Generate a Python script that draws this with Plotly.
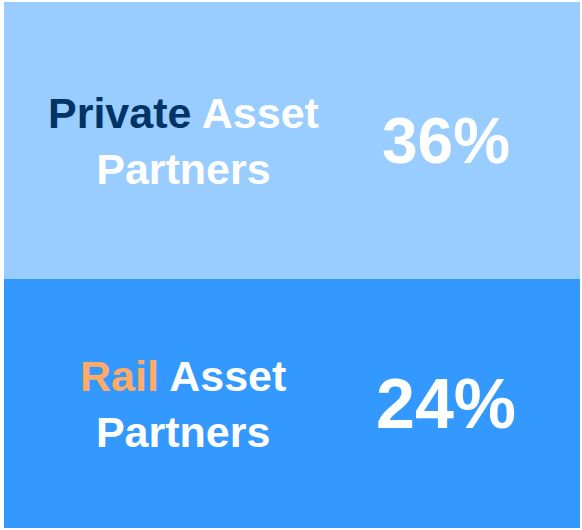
import plotly.graph_objects as go

# two partner groups, bottom row first
highlight_words = ["Rail", "Private"]
label_rest = ["Asset<br>Partners", "Asset<br>Partners"]
shares = [24, 36]

block_colors = ["#3399FF", "#99CCFF"]
highlight_colors = ["#FFAA66", "#003366"]
row_heights = [249, 277]  # pixel heights of each block

W, H = 582, 530
FONT = "Liberation Sans, Arial, Helvetica, sans-serif"

# stack the blocks on a numeric y axis
centers = []
bottom = 0
for h in row_heights:
    centers.append(bottom + h / 2)
    bottom += h

fig = go.Figure()
fig.add_trace(go.Bar(
    x=[1] * len(shares),
    y=centers,
    width=row_heights,
    orientation="h",
    marker=dict(color=block_colors, line=dict(width=0)),
    hoverinfo="skip",
    showlegend=False,
))

for i, pct in enumerate(shares):
    label = "<b><span style='color:%s'>%s</span> %s</b>" % (
        highlight_colors[i], highlight_words[i], label_rest[i])
    fig.add_annotation(
        x=0.311, y=centers[i], xref="x", yref="y",
        text=label, showarrow=False, align="center",
        font=dict(family=FONT, size=43, color="white"),
    )
    fig.add_annotation(
        x=0.768, y=centers[i], xref="x", yref="y",
        text="<b>%d%%</b>" % pct, showarrow=False,
        font=dict(family=FONT, size=64 if i else 70, color="white"),
    )

fig.update_layout(
    width=W, height=H,
    margin=dict(l=4, r=2, t=2, b=2),
    paper_bgcolor="white", plot_bgcolor="white",
    bargap=0,
    xaxis=dict(range=[0, 1], visible=False, fixedrange=True),
    yaxis=dict(range=[0, sum(row_heights)], visible=False, fixedrange=True),
)

# drop the browser's default body margin so the figure sits at the corner
fig.write_html("out.html", config={"displayModeBar": False},
               post_script="document.body.style.margin='0';")
